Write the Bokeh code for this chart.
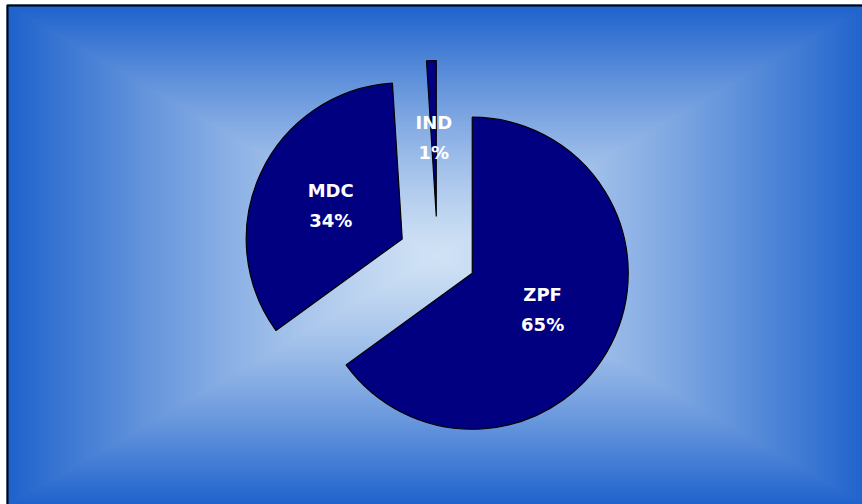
import numpy as np
from bokeh.plotting import figure
from bokeh.models import Range1d
from bokeh.core.properties import value
from bokeh.embed import file_html
from bokeh.resources import INLINE

# ---- data ----
categories = ["ZPF", "MDC", "IND"]
shares = [65, 34, 1]
pct_labels = ["65%", "34%", "1%"]

# ---- canvas ----
W, H = 862, 504
p = figure(width=W, height=H, x_range=Range1d(0, W), y_range=Range1d(0, H),
           output_backend="svg", toolbar_location=None,
           x_axis_type=None, y_axis_type=None, min_border=0,
           outline_line_color=None, background_fill_color="white",
           border_fill_color="white")
p.grid.visible = False

# ---- background: rectangular "from center" gradient ----
left_px, top_px, right_px, bottom_px = 6, 4, 868, 506
cx_px, cy_px = (left_px + right_px) / 2, (top_px + bottom_px) / 2
nx, ny = 431, 251
xs = np.linspace(left_px, right_px, nx)
ys = np.linspace(top_px, bottom_px, ny)
X, Y = np.meshgrid(xs, ys)
t = np.maximum(np.abs(X - cx_px) / ((right_px - left_px) / 2),
               np.abs(Y - cy_px) / ((bottom_px - top_px) / 2))
t = np.clip(t, 0, 1) ** 1.3
c_center = np.array([208, 226, 245], dtype=float)
c_edge = np.array([30, 98, 204], dtype=float)
rgb = c_center[None, None, :] * (1 - t[..., None]) + c_edge[None, None, :] * t[..., None]
img = np.empty((ny, nx), dtype=np.uint32)
view = img.view(dtype=np.uint8).reshape((ny, nx, 4))
view[..., 0] = rgb[..., 0].astype(np.uint8)
view[..., 1] = rgb[..., 1].astype(np.uint8)
view[..., 2] = rgb[..., 2].astype(np.uint8)
view[..., 3] = 255
p.image_rgba(image=[img], x=left_px, y=H - bottom_px,
             dw=right_px - left_px, dh=bottom_px - top_px)

# border (left and top visible)
p.quad(left=7, right=W + 20, top=H - 5, bottom=-20, fill_color=None,
       line_color="black", line_width=2)

# ---- exploded pie ----
cx, cy = 437, H - 255
radius = 156
explode = 39
label_dist = 118
total = float(sum(shares))
xs_w, ys_w, starts, ends, lx, ly = [], [], [], [], [], []
acc = 0.0
for s in shares:
    a0 = 2 * np.pi * acc / total
    a1 = 2 * np.pi * (acc + s) / total
    acc += s
    mid = (a0 + a1) / 2
    xs_w.append(cx + explode * np.sin(mid))
    ys_w.append(cy + explode * np.cos(mid))
    starts.append(np.pi / 2 - a1)
    ends.append(np.pi / 2 - a0)
    lx.append(cx + label_dist * np.sin(mid))
    ly.append(cy + label_dist * np.cos(mid))

p.wedge(x=xs_w, y=ys_w, radius=radius, start_angle=starts, end_angle=ends,
        fill_color="#000080", line_color="black", line_width=1.2)

font = value("DejaVu Sans")
p.text(x=lx, y=[v + 15 for v in ly], text=categories, text_align="center",
       text_baseline="middle", text_font=font, text_font_style="bold",
       text_font_size="18px", text_color="white")
p.text(x=lx, y=[v - 15 for v in ly], text=pct_labels, text_align="center",
       text_baseline="middle", text_font=font, text_font_style="bold",
       text_font_size="18px", text_color="white")

open("out.html", "w").write(file_html(p, INLINE))
